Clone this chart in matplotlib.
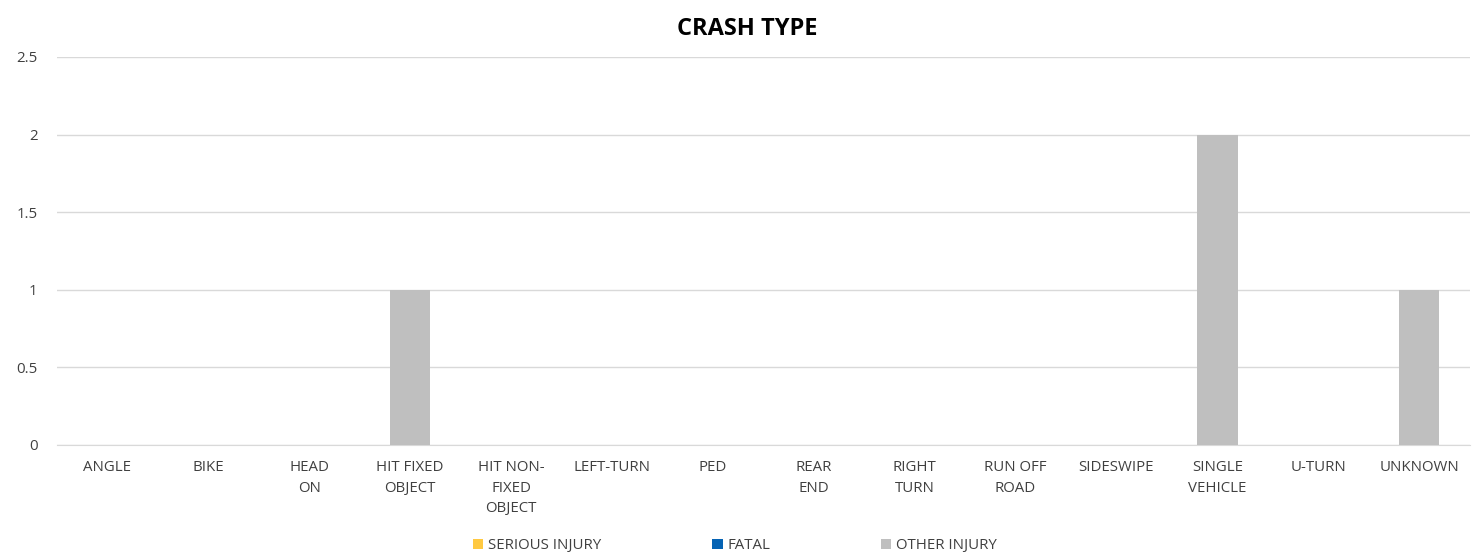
import matplotlib.pyplot as plt
import numpy as np

categories = ['ANGLE', 'BIKE', 'HEAD\nON', 'HIT FIXED\nOBJECT', 'HIT NON-\nFIXED\nOBJECT',
              'LEFT-TURN', 'PED', 'REAR\nEND', 'RIGHT\nTURN', 'RUN OFF\nROAD',
              'SIDESWIPE', 'SINGLE\nVEHICLE', 'U-TURN', 'UNKNOWN']
serious_injury = [0, 0, 0, 0, 0, 0, 0, 0, 0, 0, 0, 0, 0, 0]
fatal = [0, 0, 0, 0, 0, 0, 0, 0, 0, 0, 0, 0, 0, 0]
other_injury = [0, 0, 0, 1, 0, 0, 0, 0, 0, 0, 0, 2, 0, 1]

plt.rcParams['font.family'] = ['Open Sans', 'DejaVu Sans']

fig = plt.figure(figsize=(14.74, 5.6), dpi=100)
ax = fig.add_axes([0.0387, 0.2054, 0.9583, 0.6929])

x = np.arange(len(categories))
w = 0.4
ax.bar(x, serious_injury, w, color='#FFC941', label='SERIOUS INJURY', zorder=3)
ax.bar(x, fatal, w, bottom=serious_injury, color='#0563B4', label='FATAL', zorder=3)
base = np.array(serious_injury) + np.array(fatal)
ax.bar(x, other_injury, w, bottom=base, color='#BFBFBF', label='OTHER INJURY', zorder=3)

ax.set_xlim(-0.5, len(categories) - 0.5)
ax.set_ylim(0, 2.5)
ax.set_yticks([0, 0.5, 1, 1.5, 2, 2.5])
ax.set_yticklabels(['0', '0.5', '1', '1.5', '2', '2.5'])
ax.set_xticks(x)
ax.set_xticklabels(categories, linespacing=1.5)
ax.tick_params(axis='both', length=0, labelsize=10.8, colors='#404040')
ax.tick_params(axis='y', pad=14)
ax.tick_params(axis='x', pad=11)
ax.yaxis.grid(True, color='#D9D9D9', linewidth=1)
ax.set_axisbelow(True)
for s in ['top', 'right', 'left']:
    ax.spines[s].set_visible(False)
ax.spines['bottom'].set_color('#D9D9D9')

fig.text(0.507, 0.948, 'CRASH TYPE', fontsize=17, fontweight='bold', color='black',
         ha='center', va='center')

fig.legend(loc='lower center', bbox_to_anchor=(0.4985, -0.012), ncol=3, frameon=False,
           fontsize=10.8, handlelength=0.7, handleheight=0.7, handletextpad=0.3,
           columnspacing=7.4, labelcolor='#404040')

fig.savefig('out.png', dpi=100)
